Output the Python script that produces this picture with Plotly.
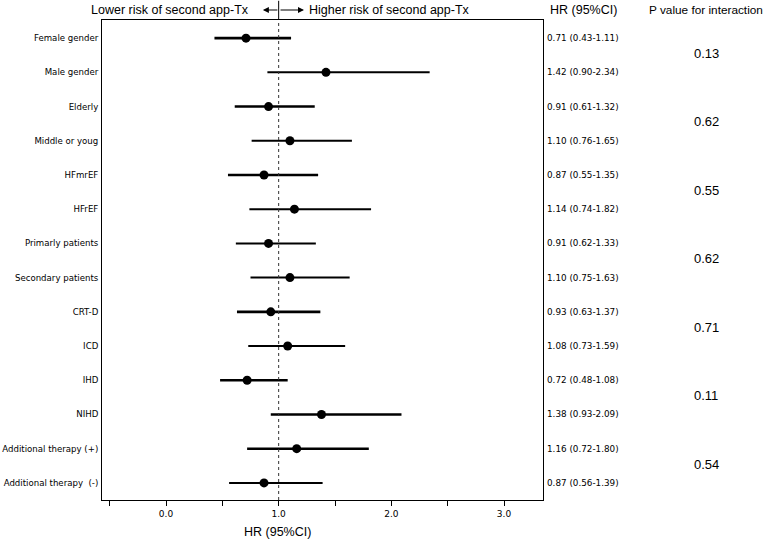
import plotly.graph_objects as go

labels = ["Female gender", "Male gender", "Elderly", "Middle or youg", "HFmrEF", "HFrEF",
          "Primarly patients", "Secondary patients", "CRT-D", "ICD", "IHD", "NIHD",
          "Additional therapy (+)", "Additional therapy  (-)"]
hr = [0.71, 1.42, 0.91, 1.10, 0.87, 1.14, 0.91, 1.10, 0.93, 1.08, 0.72, 1.38, 1.16, 0.87]
lo = [0.43, 0.90, 0.61, 0.76, 0.55, 0.74, 0.62, 0.75, 0.63, 0.73, 0.48, 0.93, 0.72, 0.56]
hi = [1.11, 2.34, 1.32, 1.65, 1.35, 1.82, 1.33, 1.63, 1.37, 1.59, 1.08, 2.09, 1.80, 1.39]
p_values = ["0.13", "0.62", "0.55", "0.62", "0.71", "0.11", "0.54"]
thick = [True, False, True, False, True, False, False, False, True, False, True, True, True, False]
x_ticks = [-0.5, 0.0, 0.5, 1.0, 1.5, 2.0, 2.5, 3.0]
x_ticktext = ["", "0.0", "", "1.0", "", "2.0", "", "3.0"]

rows = list(range(len(labels)))
fig = go.Figure()
for is_thick in (True, False):
    idx = [i for i in rows if thick[i] == is_thick]
    fig.add_trace(go.Scatter(
        x=[hr[i] for i in idx], y=idx, mode="markers",
        marker=dict(color="black", size=9),
        error_x=dict(type="data", symmetric=False,
                     array=[hi[i] - hr[i] for i in idx],
                     arrayminus=[hr[i] - lo[i] for i in idx],
                     color="black", thickness=2.6 if is_thick else 2.0, width=0),
        showlegend=False, hoverinfo="skip"))

fig.add_shape(type="line", xref="x", yref="paper", x0=1, x1=1, y0=0, y1=1,
              line=dict(color="#333", width=1, dash="dot"))
fig.add_shape(type="line", xref="x", yref="paper", x0=1, x1=1, y0=1.0, y1=1.04,
              line=dict(color="black", width=1))

ann = []
hdr_font = dict(family="Liberation Sans, Arial", size=12.5, color="black")
ann.append(dict(text="Lower risk of second app-Tx", xref="x", yref="paper", x=0.755, y=1.0208,
                xanchor="right", yanchor="middle", showarrow=False, font=hdr_font))
ann.append(dict(text="Higher risk of second app-Tx", xref="x", yref="paper", x=1.25, y=1.0208,
                xanchor="left", yanchor="middle", showarrow=False, font=hdr_font))
ann.append(dict(text="", xref="x", yref="paper", x=0.86, y=1.0208, ax=16, ay=0,
                axref="pixel", ayref="pixel", showarrow=True, arrowhead=2, arrowsize=1,
                arrowwidth=1.2, arrowcolor="black"))
ann.append(dict(text="", xref="x", yref="paper", x=1.225, y=1.0208, ax=-25, ay=0,
                axref="pixel", ayref="pixel", showarrow=True, arrowhead=2, arrowsize=1,
                arrowwidth=1.2, arrowcolor="black"))
ann.append(dict(text="HR (95%CI)", xref="paper", yref="paper", x=1.0115, y=1.0208,
                xanchor="left", yanchor="middle", showarrow=False, font=hdr_font))
ann.append(dict(text="P value for interaction", xref="paper", yref="paper", x=1.37, y=1.0208,
                xanchor="center", yanchor="middle", showarrow=False,
                font=dict(family="Liberation Sans, Arial", size=11.8, color="black")))
ann.append(dict(text="HR (95%CI)", xref="x", yref="paper", x=0.99, y=-0.0667,
                xanchor="center", yanchor="middle", showarrow=False, font=hdr_font))
for i in rows:
    ann.append(dict(text=f"{hr[i]:.2f} ({lo[i]:.2f}-{hi[i]:.2f})", xref="paper", yref="y",
                    x=1.0045, y=i, xanchor="left", yanchor="middle", showarrow=False,
                    font=dict(family="DejaVu Sans", size=8.8, color="black")))
for k, p in enumerate(p_values):
    ann.append(dict(text=p, xref="paper", yref="y", x=1.37, y=2 * k + 0.45,
                    xanchor="center", yanchor="middle", showarrow=False,
                    font=dict(family="Liberation Sans, Arial", size=13, color="black")))

fig.update_layout(
    width=765, height=545, margin=dict(l=102, r=222, t=20, b=45, autoexpand=False),
    plot_bgcolor="white", paper_bgcolor="white", annotations=ann,
    xaxis=dict(range=[-0.568, 3.346], tickvals=x_ticks, ticktext=x_ticktext,
               ticks="outside", ticklen=5, tickcolor="black", showgrid=False, zeroline=False,
               showline=True, linecolor="black", linewidth=1, mirror=True, automargin=False,
               tickfont=dict(family="DejaVu Sans", size=9, color="black")),
    yaxis=dict(range=[13.5, -0.53], tickvals=rows, ticktext=labels, showgrid=False,
               zeroline=False, showline=True, linecolor="black", linewidth=1, mirror=True,
               ticks="", ticklabelstandoff=1, automargin=False,
               tickfont=dict(family="DejaVu Sans", size=8.6, color="black")),
)
fig.write_html("out.html", config={"displayModeBar": False})
with open("out.html", "r", encoding="utf-8") as f:
    html = f.read()
html = html.replace("<head>", "<head><style>html,body{margin:0;padding:0;overflow:hidden;}</style>", 1)
with open("out.html", "w", encoding="utf-8") as f:
    f.write(html)
